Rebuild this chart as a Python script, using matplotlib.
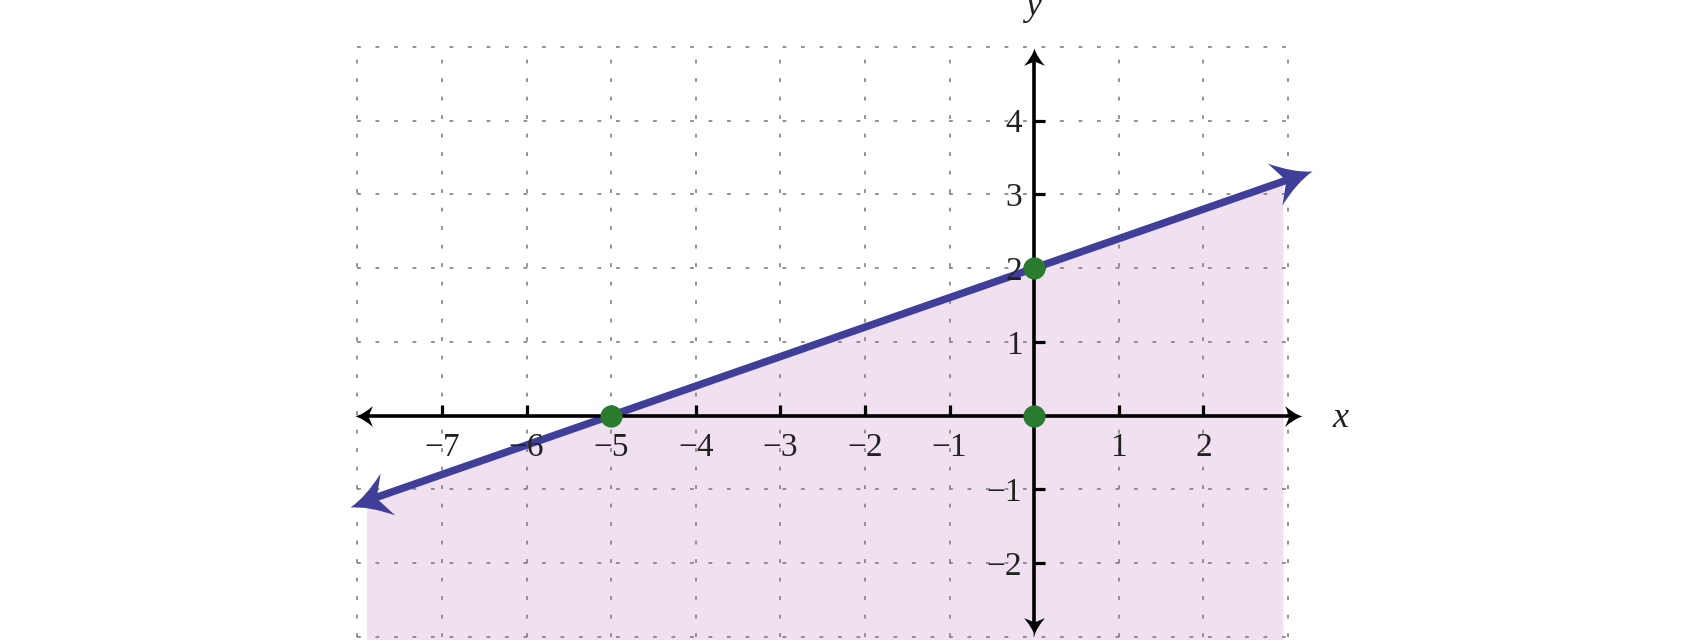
import numpy as np
import matplotlib
matplotlib.use('Agg')
import matplotlib.pyplot as plt
from matplotlib.path import Path
from matplotlib.markers import MarkerStyle
from matplotlib.transforms import Affine2D

# values
x_ticks = [-7, -6, -5, -4, -3, -2, -1, 1, 2]
y_ticks = [-2, -1, 1, 2, 3, 4]
grid_x = [-8, -7, -6, -5, -4, -3, -2, -1, 0, 1, 2, 3]
grid_y = [-3, -2, -1, 0, 1, 2, 3, 4, 5]

line_x = [-8.09, 3.28]          # arrow tips of the boundary line
line_y = [-1.236, 3.312]
shade_x = [-7.89, 2.94]         # shaded half-plane below the line
shade_top = [-1.156, 3.176]
shade_bottom = -3.2
points_x = [-5, 0, 0]
points_y = [0, 2, 0]
xaxis_ends = [-8.03, 3.16]
yaxis_ends = [-2.98, 4.98]

plt.rcParams['font.family'] = ['Liberation Serif', 'DejaVu Serif']

fig = plt.figure(figsize=(17, 6.4), dpi=100)
ax = fig.add_axes([0, 0, 1, 1])
ax.set_xlim(-12.223, 7.869)
ax.set_ylim(-3.045, 5.638)
ax.axis('off')

# pixels per data unit
px_x = 1700 / (7.869 + 12.223)
px_y = 640 / (5.638 + 3.045)

def arrow_marker(angle, notch=0.7, half=0.5):
    verts = [(0, 0), (-0.45, 0.12), (-1.0, half), (-notch, 0),
             (-1.0, -half), (-0.45, -0.12), (0, 0), (0, 0)]
    codes = [Path.MOVETO, Path.CURVE3, Path.CURVE3, Path.LINETO,
             Path.LINETO, Path.CURVE3, Path.CURVE3, Path.CLOSEPOLY]
    return MarkerStyle(Path(verts, codes), transform=Affine2D().rotate_deg(angle))

# shading
ax.fill_between(shade_x, shade_top, shade_bottom, color='#f0e0f0', lw=0, zorder=0)

# dotted grid
ax.vlines(grid_x, grid_y[0], grid_y[-1], colors='#808080', lw=1.2,
          linestyles=[(0, (2.3, 8.8))], zorder=1)
ax.hlines(grid_y, grid_x[0], grid_x[-1], colors='#808080', lw=1.2,
          linestyles=[(0, (2.3, 8.8))], zorder=1)

# boundary line with arrows
dx = (line_x[1] - line_x[0]) * px_x
dy = (line_y[1] - line_y[0]) * px_y
ang = np.degrees(np.arctan2(dy, dx))
L = np.hypot(dx, dy)
cut = 26 / L
lx = [line_x[0] + cut * (line_x[1] - line_x[0]), line_x[1] - cut * (line_x[1] - line_x[0])]
ly = [line_y[0] + cut * (line_y[1] - line_y[0]), line_y[1] - cut * (line_y[1] - line_y[0])]
blue = '#3f3f9a'
ax.plot(lx, ly, color=blue, lw=5.4, solid_capstyle='butt', zorder=2)
ax.plot(line_x[1], line_y[1], marker=arrow_marker(ang, 0.7, 0.56), ms=57, color=blue, mew=0, zorder=2)
ax.plot(line_x[0], line_y[0], marker=arrow_marker(ang + 180, 0.7, 0.56), ms=57, color=blue, mew=0, zorder=2)

# axes
ax.plot([xaxis_ends[0] + 10 / px_x, xaxis_ends[1] - 10 / px_x], [0, 0], color='black', lw=2.6, zorder=3)
ax.plot([0, 0], [yaxis_ends[0] + 10 / px_y, yaxis_ends[1] - 10 / px_y], color='black', lw=2.6, zorder=3)
ax.plot(xaxis_ends[1], 0, marker=arrow_marker(0, 0.75, 0.6), ms=25, color='black', mew=0, zorder=3)
ax.plot(xaxis_ends[0], 0, marker=arrow_marker(180, 0.75, 0.6), ms=25, color='black', mew=0, zorder=3)
ax.plot(0, yaxis_ends[1], marker=arrow_marker(90, 0.75, 0.6), ms=25, color='black', mew=0, zorder=3)
ax.plot(0, yaxis_ends[0], marker=arrow_marker(270, 0.75, 0.6), ms=25, color='black', mew=0, zorder=3)

# ticks
ax.vlines(x_ticks, 0, 11 / px_y, colors='black', lw=2.3, zorder=3)
ax.hlines(y_ticks, 0, 11 / px_x, colors='black', lw=2.3, zorder=3)

def fmt(v):
    return str(v).replace('-', '\u2212')

for v in x_ticks:
    ax.annotate(fmt(v), (v, 0), xytext=(0, -29.3), textcoords='offset points',
                ha='center', va='baseline', fontsize=24, color='#222222')
for v in y_ticks:
    ax.annotate(fmt(v), (0, v), xytext=(-8.6, -8.4), textcoords='offset points',
                ha='right', va='baseline', fontsize=24, color='#222222')

ax.annotate('x', (xaxis_ends[1], 0), xytext=(28, -8.5), textcoords='offset points',
            ha='center', va='baseline', fontsize=26, style='italic', color='#222222')
ax.annotate('y', (0, yaxis_ends[1]), xytext=(-1, 24), textcoords='offset points',
            ha='center', va='baseline', fontsize=26, style='italic', color='#222222')

# intercept points
ax.plot(points_x, points_y, 'o', color='#2a7b2f', ms=16, mew=0, zorder=5)

fig.savefig('out.png', dpi=100)
